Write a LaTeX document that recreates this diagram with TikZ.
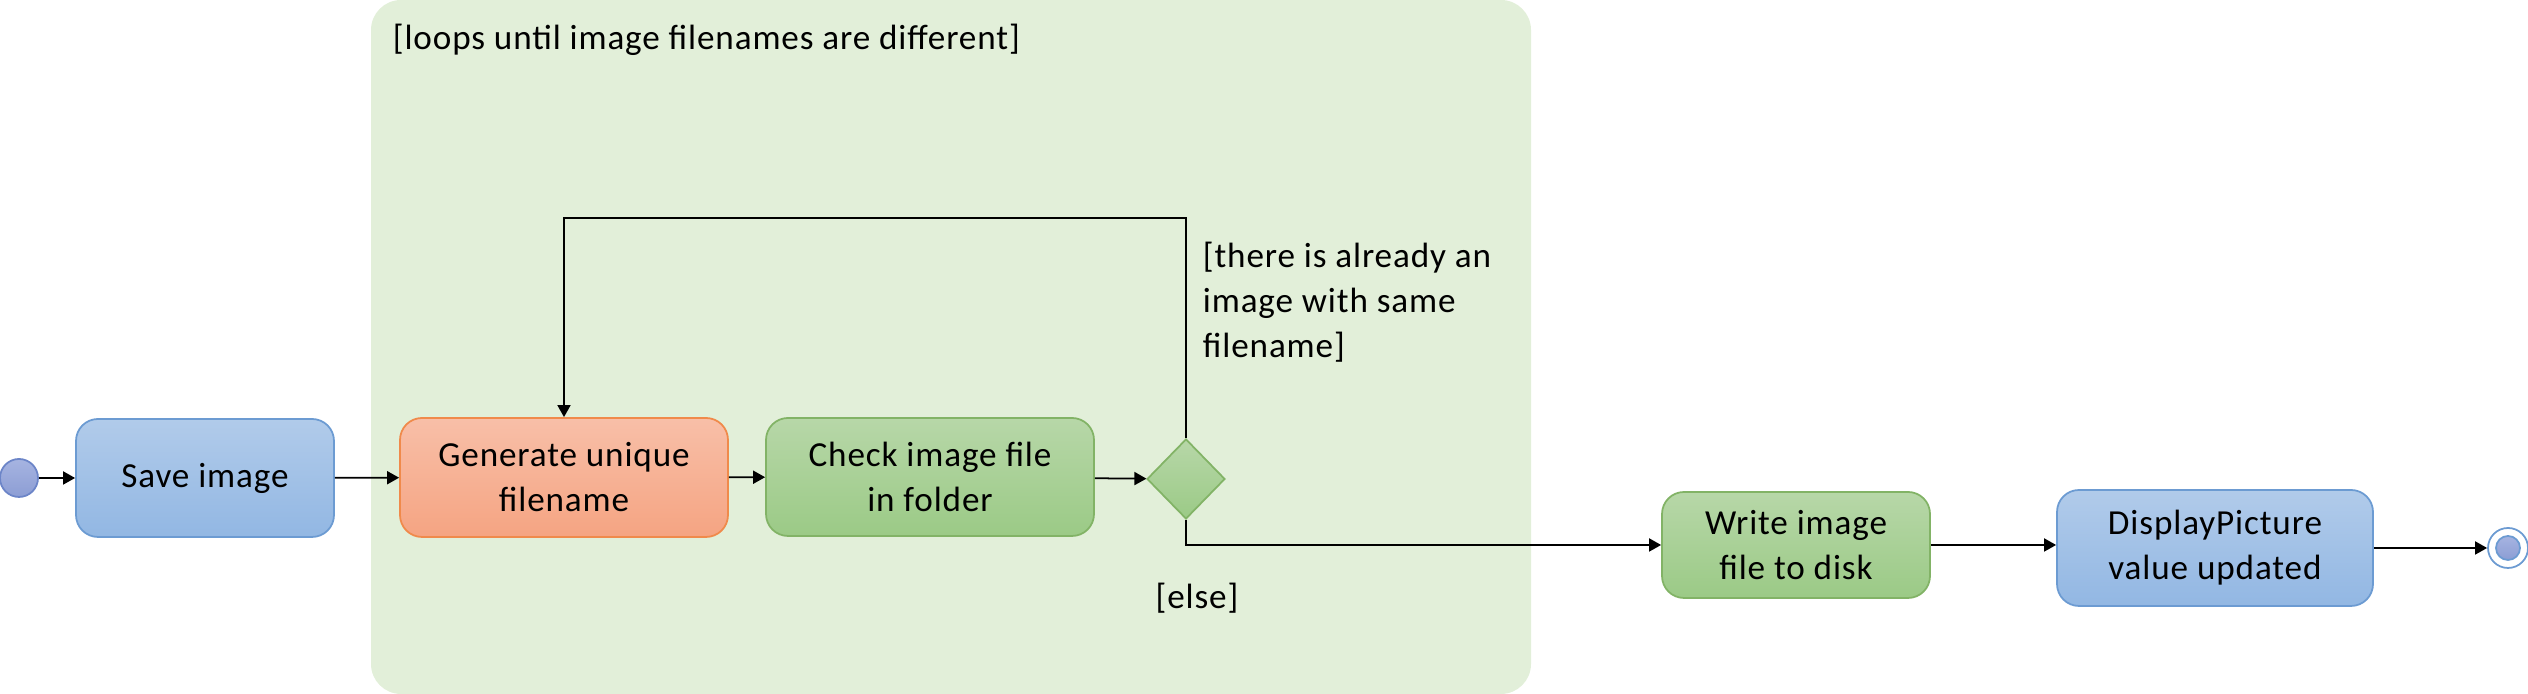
\documentclass[tikz,border=0pt]{standalone}
\usepackage{fontspec}
\setmainfont{Carlito}[LetterSpace=2.5]
\usepackage{xcolor}
\usetikzlibrary{shapes.geometric, arrows.meta}

\definecolor{loopbg}{HTML}{E2EFD9}
\definecolor{bluetop}{HTML}{B1CBEA}
\definecolor{bluebot}{HTML}{92B7E3}
\definecolor{blueline}{HTML}{6C9BD2}
\definecolor{orangetop}{HTML}{F8BFA8}
\definecolor{orangebot}{HTML}{F5A482}
\definecolor{orangeline}{HTML}{F08A4B}
\definecolor{greentop}{HTML}{B7D7A8}
\definecolor{greenbot}{HTML}{9BCA86}
\definecolor{greenline}{HTML}{82B366}
\definecolor{dottop}{HTML}{A6B4E1}
\definecolor{dotbot}{HTML}{8C9DD4}
\definecolor{dotline}{HTML}{6C85C8}

\begin{document}
\begin{tikzpicture}[>={Triangle[length=0.12cm, width=0.13cm]}, line width=0.5pt,
    txt/.style={font=\fontsize{10}{12.8}\selectfont},
    act/.style={draw, rounded corners=0.22cm, align=center, inner sep=0pt, txt},
    bluebox/.style={act, draw=blueline, top color=bluetop, bottom color=bluebot},
    orangebox/.style={act, draw=orangeline, top color=orangetop, bottom color=orangebot},
    greenbox/.style={act, draw=greenline, top color=greentop, bottom color=greenbot}]
    \useasboundingbox (0,0) rectangle (25.28,6.94);

    % loop region
    \fill[loopbg, rounded corners=0.3cm] (3.71,0) rectangle (15.31,6.94);
    \node[txt, anchor=west, inner sep=0pt] (looplbl) at (3.92,6.54) {[loops until image filenames are different]};

    \node[circle, draw=dotline, top color=dottop, bottom color=dotbot, minimum size=0.38cm, inner sep=0pt] (start) at (0.19,2.16) {};

    \node[bluebox, minimum width=2.58cm, minimum height=1.18cm] (save) at (2.05,2.16) {Save image};
    \node[orangebox, minimum width=3.28cm, minimum height=1.19cm] (gen) at (5.64,2.165) {Generate unique\\filename};
    \node[greenbox, minimum width=3.28cm, minimum height=1.18cm] (check) at (9.30,2.17) {Check image file\\in folder};
    \node[diamond, draw=greenline, top color=greentop, bottom color=greenbot, aspect=1, inner sep=0pt, minimum width=0.78cm, minimum height=0.80cm] (dec) at (11.86,2.15) {};
    \node[greenbox, minimum width=2.68cm, minimum height=1.06cm] (write) at (17.96,1.49) {Write image\\file to disk};
    \node[bluebox, minimum width=3.16cm, minimum height=1.16cm] (disp) at (22.15,1.46) {DisplayPicture\\value updated};

    \node[circle, draw=blueline, fill=white, minimum size=0.40cm, inner sep=0pt] (stop) at (25.08,1.46) {};
    \node[circle, draw=blueline, top color=dottop, bottom color=dotbot, minimum size=0.24cm, inner sep=0pt] (stopdot) at (stop) {};

    \node[txt, anchor=west, align=left, inner sep=0pt] (samelbl) at (12.02,3.92) {[there is already an\\image with same\\filename]};
    \node[txt, inner sep=0pt] (elselbl) at (11.97,0.96) {[else]};

    \draw[->] (start) -- (save);
    \draw[->] (save) -- (gen);
    \draw[->] (gen) -- (check);
    \draw[->] (check) -- (dec);
    \draw[->] (dec.north) -- ++(0,2.20) -| (gen.north);
    \draw[->] (dec.south) |- (write.west);
    \draw[->] (write.east) -- (write.east -| disp.west);
    \draw[->] (disp) -- (stop);
\end{tikzpicture}
\end{document}
